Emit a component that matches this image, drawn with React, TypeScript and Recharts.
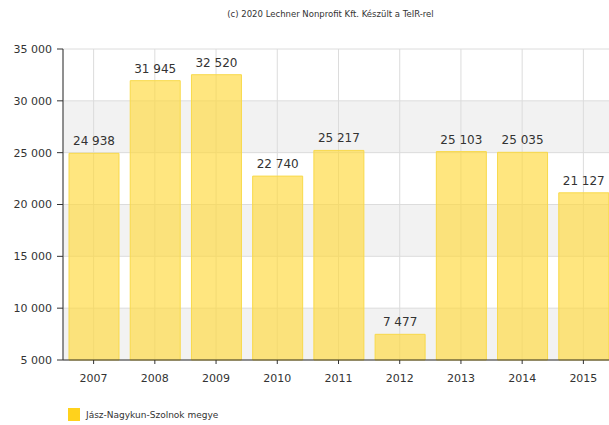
import { Bar, BarChart, CartesianGrid, LabelList, Legend, XAxis, YAxis } from "recharts";

const years = ["2007", "2008", "2009", "2010", "2011", "2012", "2013", "2014", "2015"];
const values = [24938, 31945, 32520, 22740, 25217, 7477, 25103, 25035, 21127];
const yTicks = [5000, 10000, 15000, 20000, 25000, 30000, 35000];
const seriesName = "Jász-Nagykun-Szolnok megye";
const credit = "(c) 2020 Lechner Nonprofit Kft. Készült a TeIR-rel";

const data = years.map((year, i) => ({ year, value: values[i] }));

// thousands separated by a non-breaking space so labels never wrap
const fmt = (v: number | string) =>
  String(v).replace(/\B(?=(\d{3})+(?!\d))/g, "\u00A0");

const FONT = "'DejaVu Sans', sans-serif";

const LegendContent = () => (
  <div style={{ display: "flex", alignItems: "center", paddingLeft: 68, paddingTop: 18, fontFamily: FONT, fontSize: 9, color: "#333" }}>
    <span style={{ width: 12, height: 13, background: "#ffd21c", display: "inline-block", marginRight: 6 }} />
    {seriesName}
  </div>
);

export default function App() {
  return (
    <div style={{ position: "absolute", left: 0, top: 0, width: 609, height: 425, overflow: "hidden", background: "#fff" }}>
      <div
        style={{
          position: "absolute",
          top: 9,
          left: 0,
          width: 609,
          textAlign: "center",
          fontFamily: FONT,
          fontSize: 8.5,
          color: "#333",
          paddingLeft: 52,
          boxSizing: "border-box",
        }}
      >
        {credit}
      </div>
      <BarChart
        width={622}
        height={425}
        data={data}
        margin={{ top: 49, right: 8, left: 0, bottom: 0 }}
        barSize={50}
      >
        <CartesianGrid
          stroke="#dcdcdc"
          horizontalFill={["#ffffff", "#f2f2f2"]}
        />
        <XAxis
          dataKey="year"
          height={30}
          tickSize={4}
          tickMargin={10}
          axisLine={{ stroke: "#333" }}
          tickLine={{ stroke: "#333" }}
          tick={{ fill: "#333", fontSize: 11, fontFamily: FONT }}
        />
        <YAxis
          width={63}
          domain={[5000, 35000]}
          ticks={yTicks}
          tickFormatter={fmt}
          tickSize={6}
          tickMargin={5}
          axisLine={{ stroke: "#333" }}
          tickLine={{ stroke: "#333" }}
          tick={{ fill: "#333", fontSize: 11, fontFamily: FONT }}
        />
        <Legend verticalAlign="bottom" align="left" height={35} content={<LegendContent />} />
        <Bar
          dataKey="value"
          name={seriesName}
          fill="#ffd83a"
          fillOpacity={0.65}
          stroke="#f8d94a"
          strokeWidth={1}
          isAnimationActive={false}
        >
          <LabelList
            dataKey="value"
            position="top"
            offset={8}
            formatter={fmt}
            style={{ fill: "#333", fontSize: 12, fontFamily: FONT }}
          />
        </Bar>
      </BarChart>
    </div>
  );
}
